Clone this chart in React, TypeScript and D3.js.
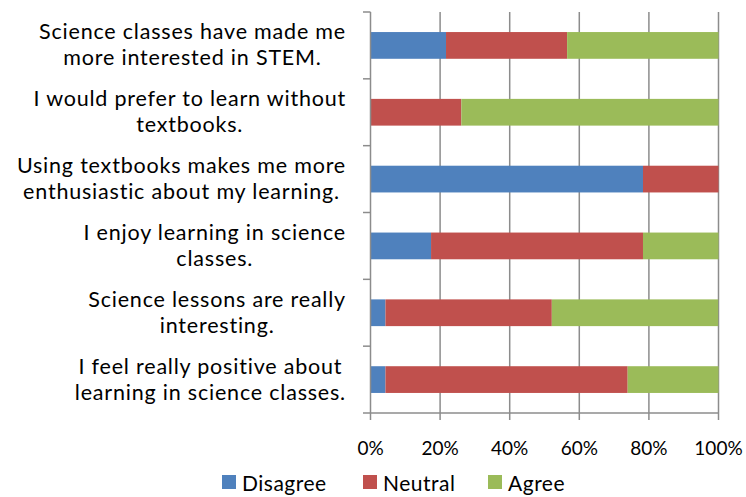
import React, { useEffect, useRef } from 'react';
import * as d3 from 'd3';

// statements, top to bottom as shown
const categories = [
  'Science classes have made me\nmore interested in STEM.',
  'I would prefer to learn without\ntextbooks.',
  'Using textbooks makes me more\nenthusiastic about my learning.',
  'I enjoy learning in science\nclasses.',
  'Science lessons are really\ninteresting.',
  'I feel really positive about\nlearning in science classes.'
];
const seriesNames = ['Disagree', 'Neutral', 'Agree'];
const disagree = [21.7, 0, 78.3, 17.4, 4.3, 4.3];
const neutral = [34.8, 26.1, 21.7, 60.9, 47.8, 69.6];
const agree = [43.5, 73.9, 0, 21.7, 47.8, 26.1];
const tickValues = [0, 20, 40, 60, 80, 100];
const colors = ['#4f81bd', '#c0504d', '#9bbb59'];

const W = 746;
const H = 497;
const FONT = 'Lato, Open Sans, sans-serif';

const App = () => {
  const ref = useRef<SVGSVGElement>(null);

  useEffect(() => {
    const svg = d3.select(ref.current);
    svg.selectAll('*').remove();

    const rows = categories.map((c, i) => ({
      cat: c,
      Disagree: disagree[i],
      Neutral: neutral[i],
      Agree: agree[i]
    }));

    const x = d3.scaleLinear().domain([0, 100]).range([370.5, 718.5]);
    const y = d3
      .scaleBand()
      .domain(categories)
      .range([12, 413])
      .paddingInner(0.6)
      .paddingOuter(0.3);

    const grid = '#8c8c8c';

    // vertical grid lines
    svg
      .append('g')
      .selectAll('line')
      .data(tickValues.slice(1))
      .enter()
      .append('line')
      .attr('x1', (d) => x(d))
      .attr('x2', (d) => x(d))
      .attr('y1', 12)
      .attr('y2', 413)
      .attr('stroke', grid)
      .attr('stroke-width', 1.5);

    const stack = d3.stack().keys(seriesNames);
    const stacked = stack(rows as any);

    svg
      .append('g')
      .selectAll('g')
      .data(stacked)
      .enter()
      .append('g')
      .attr('fill', (d, i) => colors[i])
      .selectAll('rect')
      .data((d) => d)
      .enter()
      .append('rect')
      .attr('x', (d) => x(d[0]))
      .attr('width', (d) => Math.max(0, x(d[1]) - x(d[0])))
      .attr('y', (d: any) => y(d.data.cat))
      .attr('height', y.bandwidth());

    // category axis
    const step = y.step();
    const yAxis = svg.append('g').attr('stroke', grid).attr('stroke-width', 1.5);
    yAxis.append('line').attr('x1', 370.5).attr('x2', 370.5).attr('y1', 12).attr('y2', 413);
    yAxis
      .selectAll('line.tick')
      .data(d3.range(categories.length + 1))
      .enter()
      .append('line')
      .attr('class', 'tick')
      .attr('x1', 363)
      .attr('x2', 370.5)
      .attr('y1', (i) => 12 + i * step)
      .attr('y2', (i) => 12 + i * step);

    // value axis
    const xAxis = svg.append('g').attr('stroke', grid).attr('stroke-width', 1.5);
    xAxis.append('line').attr('x1', 370.5).attr('x2', 718.5).attr('y1', 413).attr('y2', 413);
    xAxis
      .selectAll('line.tick')
      .data(tickValues)
      .enter()
      .append('line')
      .attr('class', 'tick')
      .attr('x1', (d) => x(d))
      .attr('x2', (d) => x(d))
      .attr('y1', 413)
      .attr('y2', 420);

    svg
      .append('g')
      .selectAll('text')
      .data(tickValues)
      .enter()
      .append('text')
      .attr('x', (d) => x(d))
      .attr('y', 455)
      .attr('text-anchor', 'middle')
      .style('font-family', FONT)
      .style('font-size', '19px')
      .attr('fill', '#000')
      .text((d) => d + '%');

    // category labels: each block right-aligned at 346, lines centred within it
    const labels = svg
      .append('g')
      .selectAll('text')
      .data(categories)
      .enter()
      .append('text')
      .attr('text-anchor', 'middle')
      .style('font-family', FONT)
      .style('font-size', '21.5px')
      .style('letter-spacing', '0.8px')
      .attr('fill', '#000')
      .attr('y', (d) => (y(d) as number) + y.bandwidth() / 2);
    labels
      .selectAll('tspan')
      .data((d) => d.split('\n'))
      .enter()
      .append('tspan')
      .attr('dy', (d, i) => (i === 0 ? -6 : 26))
      .text((d) => d);
    labels.each(function () {
      const spans = d3.select(this).selectAll<SVGTSpanElement, string>('tspan');
      let maxW = 0;
      spans.each(function () {
        maxW = Math.max(maxW, this.getComputedTextLength());
      });
      spans.attr('x', 346 - maxW / 2);
    });

    // legend
    const legendX = [222, 363, 488];
    const legend = svg
      .append('g')
      .selectAll('g')
      .data(seriesNames)
      .enter()
      .append('g')
      .attr('transform', (d, i) => `translate(${legendX[i]},0)`);
    legend
      .append('rect')
      .attr('x', 0)
      .attr('y', 475)
      .attr('width', 14)
      .attr('height', 14)
      .attr('fill', (d, i) => colors[i]);
    legend
      .append('text')
      .attr('x', 20)
      .attr('y', 491)
      .style('font-family', FONT)
      .style('font-size', '21px')
      .style('letter-spacing', '0.5px')
      .attr('fill', '#000')
      .text((d) => d);
  }, []);

  return (
    <svg
      ref={ref}
      width={W}
      height={H}
      style={{ position: 'absolute', left: 0, top: 0, background: '#fff' }}
    />
  );
};

export default App;
